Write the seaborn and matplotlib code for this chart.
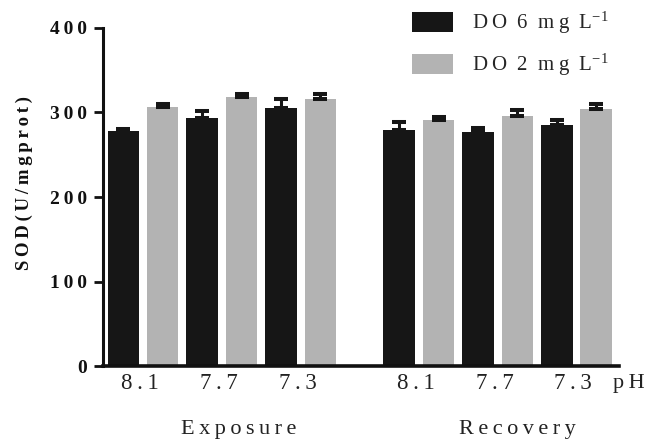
import numpy as np
import pandas as pd
import matplotlib
matplotlib.use("Agg")
import matplotlib.pyplot as plt
import seaborn as sns
from matplotlib.patches import Patch
from matplotlib.transforms import blended_transform_factory

# ---------------- data ----------------
stages = ["Exposure", "Exposure", "Exposure", "Recovery", "Recovery", "Recovery"]
ph_levels = ["8.1", "7.7", "7.3", "8.1", "7.7", "7.3"]
do_levels = ["DO 6", "DO 2"]
do6_mean = [278.5, 294, 305.5, 279, 277, 285.5]
do6_err = [2, 8, 11, 10, 5, 6]
do2_mean = [306.5, 318, 316.5, 291.5, 296, 304.5]
do2_err = [3.5, 3.5, 5.5, 3.5, 7, 5.5]
y_ticks = [0, 100, 200, 300, 400]
stage_names = ["Exposure", "Recovery"]

DARK = "#161616"
GRAY = "#b3b3b3"
TS = "\u2009"  # thin space

def spaced(s, sp=TS):
    return sp.join(list(s))

# ---------------- style ----------------
sns.set_theme(style="ticks")
plt.rcParams["font.family"] = ["Liberation Serif", "DejaVu Serif"]
plt.rcParams["mathtext.fontset"] = "custom"
plt.rcParams["mathtext.rm"] = "Liberation Serif"
plt.rcParams["mathtext.it"] = "Liberation Serif:italic"
plt.rcParams["mathtext.bf"] = "Liberation Serif:bold"

# positions: slot index with a wider gap between the two stages
slot = np.arange(len(stages), dtype=float)
pos = slot + np.array([0.0 if s == stage_names[0] else 0.5 for s in stages])

rows = []
for i in range(len(stages)):
    rows.append({"pos": pos[i], "value": do6_mean[i], "DO": do_levels[0]})
    rows.append({"pos": pos[i], "value": do2_mean[i], "DO": do_levels[1]})
df = pd.DataFrame(rows)
errs = []
for i in range(len(stages)):
    errs += [do6_err[i], do2_err[i]]

fig = plt.figure(figsize=(6.56, 4.40), dpi=100)
ax = fig.add_axes([103 / 656, 74 / 440, (619 - 103) / 656, (366 - 28) / 440])

sns.barplot(data=df, x="pos", y="value", hue="DO", hue_order=do_levels,
            native_scale=True, width=1.0, gap=0.2, palette=[DARK, GRAY],
            saturation=1, errorbar=None, legend=False, linewidth=0, ax=ax)

bars = sorted([p for p in ax.patches], key=lambda p: p.get_x())
for p, e in zip(bars, errs):
    cx = p.get_x() + p.get_width() / 2
    h = p.get_height()
    ax.errorbar(cx, h, yerr=[[0], [e]], fmt="none", ecolor=DARK,
                elinewidth=2.2, capsize=4.7, capthick=2.9, zorder=3)

ax.set_xlim(-0.508, 6.04)
ax.set_ylim(0, 400)
ax.set_yticks(y_ticks)
ax.set_yticklabels([spaced(str(t)) for t in y_ticks], fontsize=14,
                   fontweight="bold")
ax.set_xticks(pos - 0.04)
ax.set_xticklabels([spaced(p) for p in ph_levels], fontsize=16.5)
ax.tick_params(axis="x", length=0, pad=5, colors="#222222")
ax.tick_params(axis="y", length=6.5, width=2.0, pad=5, colors="#111111",
               direction="out")
ax.set_xlabel("")
ax.set_ylabel(spaced("SOD(U/mgprot)"), fontsize=13.5, fontweight="bold",
              color="#111111")
ax.yaxis.set_label_coords(-0.135, 0.54)

for s in ["top", "right"]:
    ax.spines[s].set_visible(False)
ax.spines["left"].set_linewidth(2.2)
ax.spines["bottom"].set_linewidth(2.6)
ax.spines["left"].set_color("#111111")
ax.spines["bottom"].set_color("#111111")

# stage labels and pH
tr = blended_transform_factory(ax.transData, fig.transFigure)
ax.text(1.22, 6 / 440, spaced("Exposure"), transform=tr, ha="center",
        va="baseline", fontsize=16, color="#222222")
ax.text(4.75, 6 / 440, spaced("Recovery"), transform=tr, ha="center",
        va="baseline", fontsize=16, color="#222222")
ax.text(5.96, 52 / 440, spaced("pH"), transform=tr, ha="left",
        va="baseline", fontsize=16, color="#222222")

# legend
leg_labels = [f"D{TS}O  6  m{TS}g  L" + r"$^{-1}$",
              f"D{TS}O  2  m{TS}g  L" + r"$^{-1}$"]
handles = [Patch(facecolor=DARK, edgecolor="none"),
           Patch(facecolor=GRAY, edgecolor="none")]
fig.legend(handles=handles, labels=leg_labels, loc="upper left",
           bbox_to_anchor=(412 / 656, 1 - 10 / 440), frameon=False,
           fontsize=15, handlelength=1.97, handleheight=1.06,
           handletextpad=0.9, labelspacing=0.77, borderpad=0,
           borderaxespad=0)

fig.savefig("out.png", dpi=100)
